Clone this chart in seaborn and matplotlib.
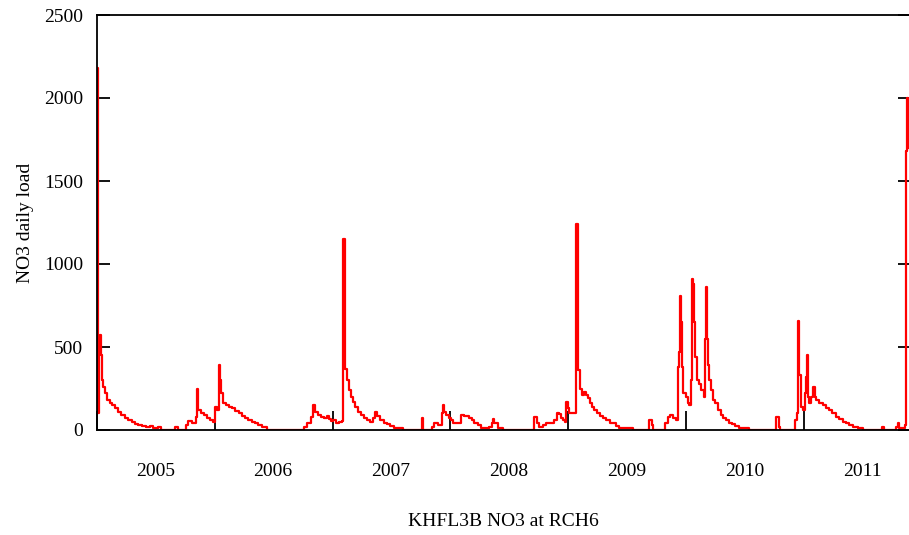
import numpy as np
import pandas as pd
import matplotlib
matplotlib.use("Agg")
import matplotlib.pyplot as plt
import matplotlib.dates as mdates
import seaborn as sns

# ---- data ----
start_date = "2005-01-01"
# days since start_date at which the daily load changes (step series)
day_offset = [
    0, 3, 6, 9, 12, 16, 19, 25, 31, 40, 47, 56, 65, 74, 87, 96, 109, 118, 127, 140,
    152, 165, 174, 189, 199, 242, 251, 276, 282, 295, 307, 310, 314, 323, 332, 341,
    351, 360, 366, 372, 379, 382, 385, 391, 400, 410, 419, 428, 441, 450, 459, 469,
    481, 490, 500, 512, 528,
    643, 652, 664, 670, 677, 686, 695, 705, 714, 720, 726, 733, 742, 751, 760, 764,
    770, 776, 782, 788, 795, 801, 810, 819, 829, 838, 847, 857, 863, 869, 878, 891,
    900, 909, 922, 947, 1006, 1009, 1037, 1046, 1058, 1068, 1071, 1077, 1083, 1090,
    1096, 1102, 1117, 1127, 1139, 1152, 1161, 1170, 1180, 1189, 1214, 1223, 1226,
    1232, 1242, 1257,
    1356, 1363, 1369, 1381, 1391, 1403, 1415, 1425, 1431, 1437, 1443, 1450, 1453,
    1459, 1462, 1484, 1490, 1496, 1502, 1509, 1515, 1521, 1527, 1533, 1540, 1549,
    1558, 1568, 1577, 1589, 1599, 1608, 1617, 1661, 1710, 1720, 1723, 1760, 1769,
    1776, 1785, 1794, 1800, 1803, 1807, 1810, 1813, 1816, 1825, 1831, 1834, 1841,
    1844, 1847, 1850, 1853, 1859, 1865, 1872, 1881, 1884, 1887, 1890, 1893, 1896,
    1903, 1909, 1915, 1924, 1934, 1940, 1949, 1959, 1968, 1977, 1990, 2021,
    2105, 2114, 2117, 2163, 2170, 2173, 2176, 2182, 2188, 2195, 2198, 2201, 2204,
    2207, 2213, 2219, 2226, 2229, 2238, 2250, 2260, 2269, 2278, 2291, 2300, 2312,
    2322, 2331, 2344, 2359, 2375, 2434, 2440, 2477, 2483, 2486, 2505, 2508, 2511,
    2514, 2520,
]
no3_load = [
    2180, 100, 520, 570, 450, 300, 260, 220, 180, 160, 150, 130, 110, 90, 72, 60, 48, 38, 30, 22,
    18, 25, 15, 20, 0, 20, 0, 30, 56, 45, 80, 250, 120, 100, 90, 70,
    60, 50, 140, 120, 390, 300, 220, 160, 150, 140, 130, 115, 100, 85, 70, 60,
    50, 40, 30, 18, 0,
    20, 40, 80, 150, 110, 90, 80, 70, 85, 65, 55, 60, 45, 50, 55, 1150,
    370, 300, 240, 200, 170, 140, 110, 90, 75, 60, 50, 70, 110, 85, 60, 45,
    35, 25, 15, 0, 70, 0, 20, 40, 30, 100, 150, 110, 90, 75,
    60, 45, 40, 90, 85, 75, 60, 45, 30, 15, 20, 45, 66,
    40, 15, 0,
    80, 40, 20, 30, 40, 45, 60, 100, 95, 75, 60, 50, 170,
    130, 100, 1240, 360, 250, 210, 230, 210, 190, 160, 140, 120, 100,
    85, 70, 60, 45, 40, 25, 12, 0, 60, 30, 0, 40, 80,
    90, 70, 60, 380, 470, 810, 650, 380, 220, 200, 160, 150, 300,
    910, 880, 650, 440, 300, 280, 240, 200, 550, 860, 550, 390, 300,
    240, 180, 160, 120, 90, 75, 60, 45, 35, 25, 15, 0,
    80, 20, 0, 60, 100, 655, 330, 140, 120, 220, 320, 450, 200,
    160, 200, 260, 200, 180, 165, 150, 130, 120, 100, 80, 65, 50,
    40, 30, 20, 12, 0, 20, 0, 20, 40, 15, 30, 1680, 2000,
    1700, 1700,
]
year_labels = ["2005", "2006", "2007", "2008", "2009", "2010", "2011"]
y_ticks = [0, 500, 1000, 1500, 2000, 2500]
x_title = "KHFL3B NO3 at RCH6"
y_title = "NO3 daily load"

# ---- figure ----
sns.set_style("ticks")
plt.rcParams["font.family"] = ["Liberation Serif", "DejaVu Serif"]

t0 = pd.Timestamp(start_date)
df = pd.DataFrame({
    "date": t0 + pd.to_timedelta(day_offset, unit="D"),
    "load": no3_load,
})

W, H = 909, 535
fig = plt.figure(figsize=(W / 100, H / 100), dpi=100)
ax = fig.add_axes([97 / W, 1 - 430 / H, 813 / W, 415 / H])

sns.lineplot(data=df, x="date", y="load", estimator=None, sort=False,
             drawstyle="steps-post", color="#ff0000", linewidth=1.6, ax=ax)

ax.set_xlim(t0, t0 + pd.Timedelta(days=day_offset[-1]))
ax.set_ylim(y_ticks[0], y_ticks[-1])

year_starts = [pd.Timestamp(f"{y}-01-01") for y in year_labels]
mid_years = [pd.Timestamp(f"{y}-07-01") for y in year_labels]
ax.set_xticks(year_starts)
ax.set_xticklabels([""] * len(year_starts))
ax.set_xticks(mid_years, minor=True)
ax.set_xticklabels(year_labels, minor=True)
ax.tick_params(axis="x", which="major", direction="in", length=14, width=1.3,
               color="black", top=False, bottom=True)
ax.tick_params(axis="x", which="minor", length=0, pad=24, labelsize=14,
               labelcolor="black")

ax.set_yticks(y_ticks)
ax.set_yticklabels([str(v) for v in y_ticks])
ax.tick_params(axis="y", which="major", direction="in", length=9, width=1.3,
               color="black", left=True, right=True, labelsize=14, pad=10,
               labelcolor="black")

for side in ["left", "top", "bottom"]:
    ax.spines[side].set_visible(True)
    ax.spines[side].set_color("black")
    ax.spines[side].set_linewidth(1.3)
ax.spines["right"].set_visible(False)

ax.set_xlabel(x_title, fontsize=14, color="black")
ax.xaxis.set_label_coords(0.5, (430 - 513) / 415)
ax.set_ylabel(y_title, fontsize=14, color="black")
ax.yaxis.set_label_coords((34 - 97) / 813, 0.5)

fig.savefig("out.png", dpi=100)
